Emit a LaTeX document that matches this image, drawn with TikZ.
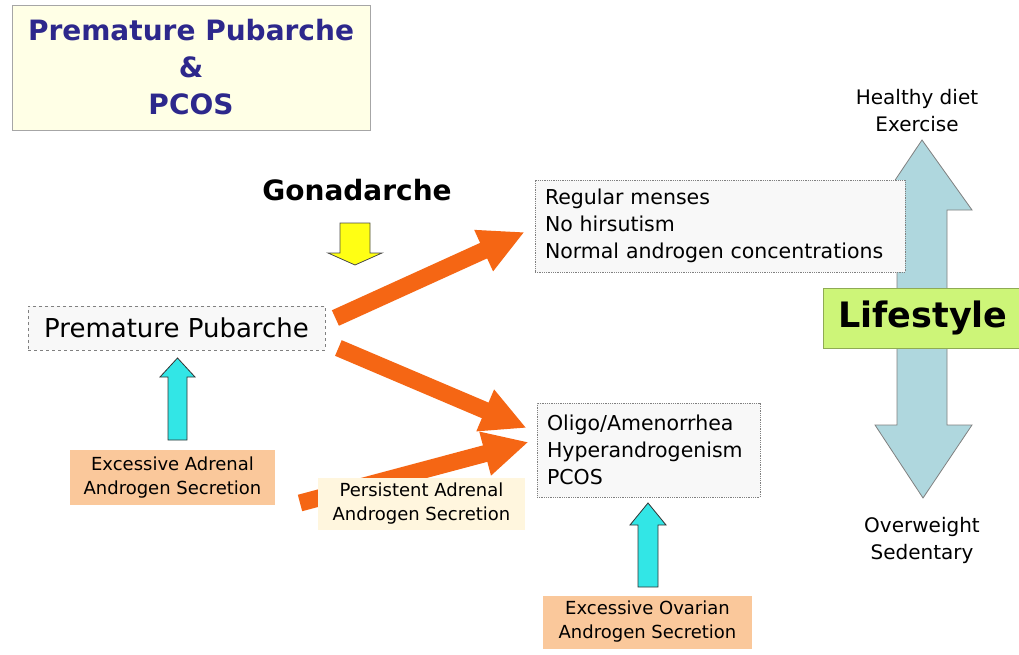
\documentclass[tikz,border=0pt]{standalone}
\usepackage{fontspec}
\setmainfont{DejaVu Sans}
\usepackage{tikz}
\usetikzlibrary{arrows.meta}

\definecolor{TitleFill}{RGB}{255,255,230}
\definecolor{TitleBlue}{RGB}{45,40,140}
\definecolor{BoxGrey}{RGB}{248,248,248}
\definecolor{PeachFill}{RGB}{250,200,155}
\definecolor{CreamFill}{RGB}{255,246,222}
\definecolor{ArrowOrange}{RGB}{245,102,20}
\definecolor{ArrowCyan}{RGB}{50,230,230}
\definecolor{ArrowYellow}{RGB}{255,255,20}
\definecolor{LifeBlue}{RGB}{175,215,222}
\definecolor{LifeGreen}{RGB}{205,245,120}

\begin{document}
\begin{tikzpicture}[x=1pt, y=-1pt,
	line width = 0.8pt,
	titlebox/.style={draw=gray!70, fill=TitleFill, minimum width=358pt, minimum height=125pt,
		align=center, text=TitleBlue, font=\fontsize{28}{37}\selectfont\bfseries},
	dashbox/.style={draw=gray, dashed, fill=BoxGrey, inner sep=0pt},
	dotbox/.style={draw=gray, densely dotted, fill=BoxGrey, inner sep=0pt, align=left,
		font=\fontsize{20.5}{27}\selectfont},
	peachbox/.style={fill=PeachFill, inner sep=0pt, align=center,
		font=\fontsize{18}{24}\selectfont},
	orangearrow/.style={draw=ArrowOrange, line width=17pt,
		-{Triangle[length=45pt, width=42pt, fill=ArrowOrange]}},
	cyanarrow/.style={draw=gray!40!black, fill=ArrowCyan, line width=0.8pt},
	plain/.style={align=center, font=\fontsize{20}{27}\selectfont}]

	\useasboundingbox (0,0) rectangle (1019,655);
	\fill[white] (0,0) rectangle (1019,655);

	% lifestyle arrow
	\filldraw[draw=gray, fill=LifeBlue] (922,140) -- (972,210) -- (947,210) -- (947,425)
		-- (972,425) -- (923,498) -- (875,425) -- (897,425) -- (897,210) -- (875,210) -- cycle;
	\node[plain] (good) at (917,111) {Healthy diet\\Exercise};
	\node[plain] (bad) at (922,540) {Overweight\\Sedentary};

	\node[titlebox] (title) at (191,67.5) {Premature Pubarche\\\&\\PCOS};

	\node[font=\fontsize{28}{28}\selectfont\bfseries] (gona) at (357,190) {Gonadarche};
	\filldraw[draw=gray!60!black, fill=ArrowYellow] (340,223) -- (370,223) -- (370,253) -- (382,253)
		-- (355,265) -- (328,253) -- (340,253) -- cycle;

	\node[dashbox, minimum width=297pt, minimum height=44pt,
		font=\fontsize{26}{26}\selectfont] (pp) at (176.5,328) {Premature Pubarche};

	\node[dotbox, minimum width=370pt, minimum height=92pt, text width=350pt] (reg) at (720,226)
		{Regular menses\\No hirsutism\\Normal androgen concentrations};
	\node[dotbox, minimum width=223pt, minimum height=94pt, text width=203pt] (olig) at (648.5,450)
		{Oligo/Amenorrhea\\Hyperandrogenism\\PCOS};

	\node[draw=LifeGreen!70!black, fill=LifeGreen, minimum width=200pt, minimum height=60pt,
		font=\fontsize{35}{35}\selectfont\bfseries] (life) at (923,318) {Lifestyle};

	\node[peachbox, minimum width=205pt, minimum height=55pt] (adrenal) at (172.5,477.5)
		{Excessive Adrenal\\Androgen Secretion};
	\node[peachbox, minimum width=209pt, minimum height=53pt] (ovar) at (647.5,622)
		{Excessive Ovarian\\Androgen Secretion};

	% orange arrows
	\coordinate (ptail) at (300,503);
	\draw[orangearrow] ([shift={(10,-10)}]pp.east) -- ([shift={(-10,6)}]reg.west);
	\draw[orangearrow] ([shift={(13,20)}]pp.east) -- ([shift={(-10,-22)}]olig.west);
	\draw[orangearrow] (ptail) -- ([shift={(-8,-8)}]olig.west);

	\node[peachbox, fill=CreamFill, minimum width=207pt, minimum height=52pt] (persist) at (421.5,504)
		{Persistent Adrenal\\Androgen Secretion};

	% cyan arrows
	\filldraw[cyanarrow] (168,440) -- (168,377) -- (160,377) -- (177.5,358) -- (195,377)
		-- (187,377) -- (187,440) -- cycle;
	\filldraw[cyanarrow] (638,587) -- (638,525) -- (630,525) -- (648,503) -- (666,525)
		-- (658,525) -- (658,587) -- cycle;

\end{tikzpicture}
\end{document}
